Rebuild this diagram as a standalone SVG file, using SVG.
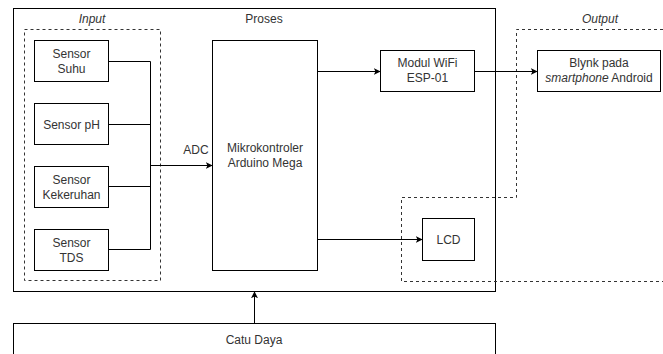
<svg xmlns="http://www.w3.org/2000/svg" width="663" height="354" viewBox="0 0 663 354">
<defs>
<style>
.box{fill:#fff;stroke:#000;stroke-width:1}
.grp{fill:none;stroke:#000;stroke-width:1}
.dash{fill:none;stroke:#333;stroke-width:1;stroke-dasharray:3,3}
.t{font-family:"Liberation Sans",Arial,sans-serif;font-size:12px;fill:#333;text-anchor:middle}
.i{font-style:italic}
.c{fill:none;stroke:#000;stroke-width:1}
</style>
<marker id="ar" viewBox="0 0 10 10" refX="9" refY="5" markerWidth="7" markerHeight="7" orient="auto" markerUnits="userSpaceOnUse">
<path d="M0,0 L10,5 L0,10 L2.5,5 Z" fill="#000"/>
</marker>
</defs>
<rect width="663" height="354" fill="#fff"/>
<g id="proses">
<rect class="grp" x="13.5" y="8.5" width="482" height="283"/>
<text class="t" x="264" y="23">Proses</text>
</g>
<g id="input">
<rect class="dash" x="24.5" y="29.5" width="136" height="251"/>
<text class="t i" x="92" y="23">Input</text>
</g>
<g id="output">
<path class="dash" d="M663,29.5 H516.5 V197.5 H401.5 V281.5 H663"/>
<text class="t i" x="600" y="23">Output</text>
</g>
<g id="sensor-suhu">
<rect class="box" x="34.5" y="40.5" width="74" height="41"/>
<text class="t" x="71.5" y="57.5">Sensor</text>
<text class="t" x="71.5" y="72.5">Suhu</text>
</g>
<g id="sensor-ph">
<rect class="box" x="34.5" y="103.5" width="74" height="41"/>
<text class="t" x="71.5" y="128.5">Sensor pH</text>
</g>
<g id="sensor-kekeruhan">
<rect class="box" x="34.5" y="166.5" width="74" height="41"/>
<text class="t" x="71.5" y="183.5">Sensor</text>
<text class="t" x="71.5" y="198.5">Kekeruhan</text>
</g>
<g id="sensor-tds">
<rect class="box" x="34.5" y="229.5" width="74" height="41"/>
<text class="t" x="71.5" y="246.5">Sensor</text>
<text class="t" x="71.5" y="261.5">TDS</text>
</g>
<g id="mikrokontroler">
<rect class="box" x="212.5" y="40.5" width="105" height="230"/>
<text class="t" x="265" y="152">Mikrokontroler</text>
<text class="t" x="265" y="167">Arduino Mega</text>
</g>
<g id="wifi">
<rect class="box" x="380.5" y="50.5" width="94" height="41"/>
<text class="t" x="427.5" y="67">Modul WiFi</text>
<text class="t" x="427.5" y="82">ESP-01</text>
</g>
<g id="blynk">
<rect class="box" x="537.5" y="50.5" width="123" height="41"/>
<text class="t" x="599" y="67">Blynk pada</text>
<text class="t" x="599" y="82"><tspan class="i">smartphone</tspan> Android</text>
</g>
<g id="lcd">
<rect class="box" x="422.5" y="218.5" width="52" height="42"/>
<text class="t" x="448.5" y="244">LCD</text>
</g>
<g id="catu-daya">
<rect class="box" x="13.5" y="323.5" width="482" height="40"/>
<text class="t" x="254" y="344">Catu Daya</text>
</g>
<g id="connectors">
<path class="c" d="M108.5,61.5 H150.5 V249.5 H108.5"/>
<path class="c" d="M108.5,124.5 H150.5"/>
<path class="c" d="M108.5,186.5 H150.5"/>
<path class="c" d="M150.5,165.5 H212" marker-end="url(#ar)"/>
<text class="t" x="196" y="154">ADC</text>
<path class="c" d="M317.5,71.5 H380" marker-end="url(#ar)"/>
<path class="c" d="M474.5,71.5 H537" marker-end="url(#ar)"/>
<path class="c" d="M317.5,239.5 H422" marker-end="url(#ar)"/>
<path class="c" d="M254.5,323 V292" marker-end="url(#ar)"/>
</g>
</svg>
